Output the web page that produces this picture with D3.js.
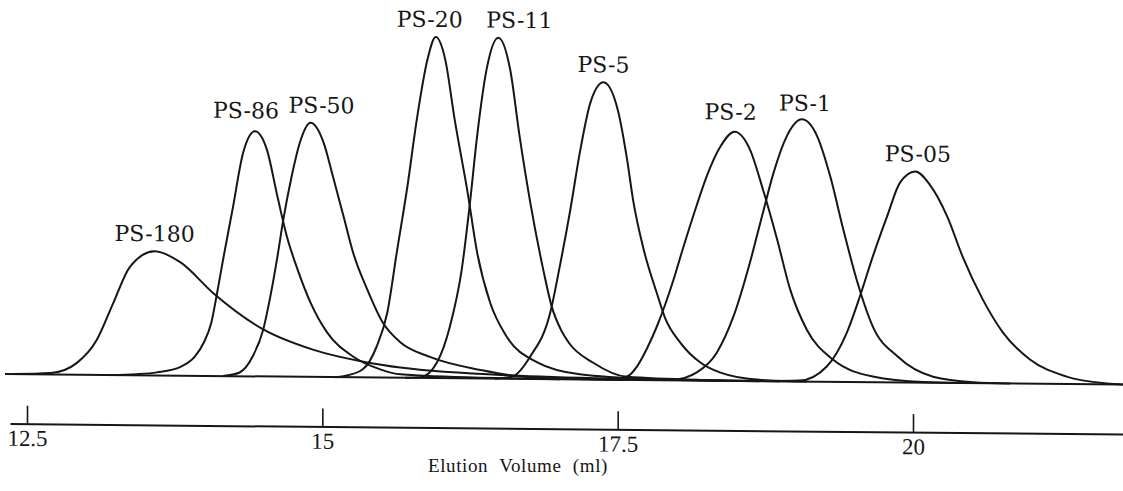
<!DOCTYPE html>
<html>
<head>
<meta charset="utf-8">
<script src="https://cdn.jsdelivr.net/npm/d3@7"></script>
<style>
body { margin: 0; background: #fff; }
svg { display: block; background: #fff; }
</style>
</head>
<body>
<svg width="1123" height="491"></svg>
<script>
//elution traces, [volume in ml, detector response in % of tallest peak]
var ps180 = [[12.38, 0], [12.70, 0.4], [12.92, 3.4], [13.09, 10.2], [13.23, 21.1], [13.37, 31.7], [13.58, 36.4],
  [13.80, 33.2], [14.07, 24.5], [14.50, 13.8], [14.92, 8.0], [15.38, 4.4], [15.66, 3.0], [16.67, 0.9],
  [17.77, 0.2], [18.70, 0]];
var ps86 = [[13.20, 0], [13.43, 0.3], [13.60, 0.9], [13.80, 2.6], [13.92, 5.6], [14.00, 10.0], [14.06, 15.6],
  [14.11, 24.5], [14.16, 34.2], [14.24, 48.9], [14.33, 65.6], [14.43, 71.9], [14.53, 66.6], [14.62, 52.8],
  [14.70, 41.1], [14.79, 31.5], [14.90, 21.8], [15.04, 13.1], [15.26, 6.1], [15.49, 2.4], [15.66, 1.0],
  [16.34, 0.2], [17.01, 0]];
var ps50 = [[14.16, 0], [14.30, 1.1], [14.41, 5.8], [14.50, 13.8], [14.56, 23.5], [14.62, 35.2], [14.67, 46.1],
  [14.74, 58.7], [14.81, 68.7], [14.90, 74.5], [15.01, 68.8], [15.09, 58.8], [15.18, 47.1], [15.26, 36.6],
  [15.38, 25.8], [15.51, 16.2], [15.66, 10.4], [15.91, 6.2], [16.34, 2.5], [16.65, 0.8], [17.10, 0.2], [17.60, 0]];
var ps20 = [[15.11, 0], [15.18, 0.3], [15.34, 2.3], [15.46, 9.1], [15.55, 19.1], [15.63, 36.7], [15.72, 56.1],
  [15.80, 75.8], [15.89, 93.4], [15.96, 100], [16.04, 93.5], [16.12, 75.9], [16.23, 54.5], [16.31, 37.0],
  [16.42, 22.3], [16.56, 12.4], [16.82, 4.9], [17.18, 1.5], [17.77, 0.3], [18.37, 0]];
var ps11 = [[15.70, 0], [15.83, 0.2], [15.97, 4.6], [16.08, 15.2], [16.18, 31.9], [16.25, 51.6], [16.31, 71.0],
  [16.39, 90.6], [16.49, 100], [16.59, 90.7], [16.67, 71.1], [16.76, 51.8], [16.87, 32.1], [16.94, 21.5],
  [17.02, 14.5], [17.09, 10.6], [17.29, 5.0], [17.58, 0.9], [18.20, 0.2], [18.87, 0]];
var ps5 = [[16.46, 0], [16.61, 0.7], [16.76, 6.6], [16.93, 19.6], [17.01, 33.1], [17.10, 49.9], [17.18, 66.6],
  [17.27, 81.3], [17.38, 87.2], [17.50, 79.3], [17.58, 64.6], [17.63, 52.9], [17.72, 38.3], [17.83, 25.7],
  [17.90, 18.4], [18.03, 11.1], [18.20, 5.3], [18.37, 2.4], [18.70, 0.4], [19.10, 0]];
var ps2 = [[17.40, 0], [17.58, 1.0], [17.67, 4.3], [17.75, 9.4], [17.83, 15.6], [17.90, 22.0], [17.97, 29.2],
  [18.05, 38.4], [18.17, 51.5], [18.26, 60.5], [18.37, 68.7], [18.49, 73.1], [18.62, 67.9], [18.73, 56.2],
  [18.85, 41.6], [18.96, 27.0], [19.10, 15.3], [19.32, 6.6], [19.66, 1.7], [20.09, 0.2], [20.40, 0]];
var ps1 = [[17.69, 0], [17.97, 0.2], [18.17, 2.4], [18.34, 8.3], [18.48, 18.9], [18.62, 34.8], [18.73, 49.5],
  [18.82, 61.2], [18.93, 71.8], [19.06, 76.9], [19.19, 71.9], [19.30, 60.2], [19.41, 44.7], [19.53, 29.2],
  [19.66, 16.3], [19.87, 7.6], [20.17, 1.8], [20.51, 0.3], [20.82, 0]];
var ps05 = [[18.54, 0], [19.04, 0.3], [19.27, 4.5], [19.44, 14.5], [19.55, 25.1], [19.66, 36.9], [19.78, 48.6],
  [19.89, 58.6], [20.02, 61.9], [20.14, 58.2], [20.29, 48.8], [20.42, 37.1], [20.59, 24.6], [20.76, 15.0],
  [20.99, 7.1], [21.30, 2.2], [21.64, 0.3], [21.78, 0]];

var sampleNames = ["PS-180", "PS-86", "PS-50", "PS-20", "PS-11", "PS-5", "PS-2", "PS-1", "PS-05"];
var traces = [ps180, ps86, ps50, ps20, ps11, ps5, ps2, ps1, ps05];

var tickValues = [12.5, 15, 17.5, 20];
var tickLabels = ["12.5", "15", "17.5", "20"];
var axisTitle = "Elution Volume (ml)";

//label nudges so names sit where the printed ones do
var labelShift = {
  "PS-86": [-9, -3], "PS-50": [11, 0], "PS-20": [-6, 0], "PS-11": [21, 0],
  "PS-2": [-4, -2], "PS-1": [3, 1.5], "PS-05": [2.5, 0]
};

var svg = d3.select("svg"),
    width = +svg.attr("width"),
    height = +svg.attr("height");

var ink = "#161616";

//the scanned plot leans slightly downhill to the right
var lean = 0.0095;

var x = d3.scaleLinear().domain([12.5, 20]).range([27, 913]);
var y = d3.scaleLinear().domain([0, 100]).range([374, 33]);

var plot = svg.append("g")
    .attr("transform", "translate(0," + (-5 * lean) + ") skewY(" + (Math.atan(lean) * 180 / Math.PI) + ")");

//baseline
plot.append("line")
    .attr("x1", 5)
    .attr("x2", width)
    .attr("y1", y(0))
    .attr("y2", y(0))
    .attr("stroke", ink)
    .attr("stroke-width", 2);

var line = d3.line()
    .x(function (d) { return x(d[0]); })
    .y(function (d) { return y(d[1]); })
    .curve(d3.curveMonotoneX);

var series = sampleNames.map(function (name, i) {
    var pts = traces[i];
    var top = pts.reduce(function (a, b) { return b[1] > a[1] ? b : a; });
    return { name: name, points: pts, top: top };
});

plot.selectAll(".trace")
    .data(series)
    .enter()
    .append("path")
    .attr("class", "trace")
    .attr("d", function (d) { return line(d.points); })
    .attr("fill", "none")
    .attr("stroke", ink)
    .attr("stroke-width", 2)
    .attr("stroke-linejoin", "round");

//peak names
plot.selectAll(".peak-label")
    .data(series)
    .enter()
    .append("text")
    .attr("class", "peak-label")
    .attr("x", function (d) { return x(d.top[0]) + (labelShift[d.name] ? labelShift[d.name][0] : 0); })
    .attr("y", function (d) { return y(d.top[1]) - 10 + (labelShift[d.name] ? labelShift[d.name][1] : 0); })
    .attr("text-anchor", "middle")
    .attr("font-family", "'DejaVu Serif', serif")
    .attr("font-size", 22)
    .attr("fill", ink)
    .text(function (d) { return d.name; });

//volume axis, ticks pointing up
var axisScale = x.copy().domain([x.invert(10), x.invert(width)]).range([10, width]);

var axis = plot.append("g")
    .attr("transform", "translate(0,423.5)")
    .call(d3.axisBottom(axisScale)
        .tickValues(tickValues)
        .tickFormat(function (d, i) { return tickLabels[i]; })
        .tickSizeInner(-18)
        .tickSizeOuter(0)
        .tickPadding(6));

axis.attr("font-family", "'Liberation Serif', serif")
    .attr("font-size", 23);
axis.select(".domain").attr("stroke", ink).attr("stroke-width", 2);
axis.selectAll(".tick line").attr("stroke", ink).attr("stroke-width", 1.6);
axis.selectAll(".tick text").attr("fill", ink);

svg.append("text")
    .attr("x", 518)
    .attr("y", 472)
    .attr("text-anchor", "middle")
    .attr("font-family", "'Liberation Serif', serif")
    .attr("font-size", 19)
    .attr("letter-spacing", 0.6)
    .attr("word-spacing", 6)
    .attr("fill", ink)
    .text(axisTitle);
</script>
</body>
</html>
